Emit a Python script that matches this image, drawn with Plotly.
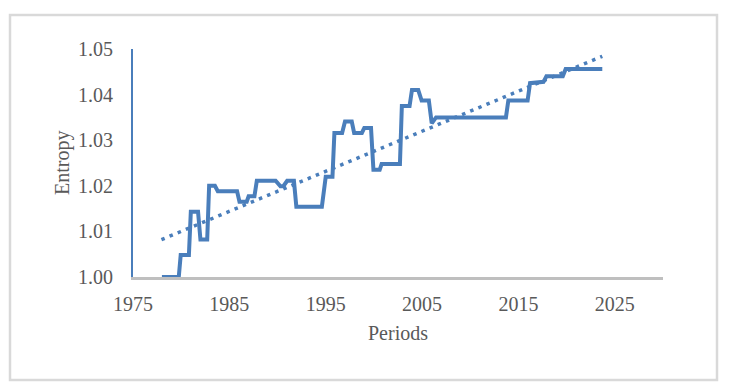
import plotly.graph_objects as go

# Entropy step series (vertices)
years = [1978.0, 1979.75, 1979.95, 1980.8, 1981.0, 1981.75, 1982.0, 1982.7, 1982.9, 1983.5,
         1983.8, 1985.8, 1986.05, 1986.8, 1987.0, 1987.6, 1987.85, 1989.8, 1990.3, 1990.6,
         1991.0, 1991.7, 1991.95, 1994.6, 1995.0, 1995.7, 1995.9, 1996.7, 1997.0, 1997.7,
         1997.95, 1998.75, 1999.0, 1999.7, 1999.95, 2000.6, 2000.8, 2002.7, 2002.9, 2003.7,
         2003.95, 2004.6, 2004.95, 2005.7, 2006.0, 2006.45, 2013.7, 2013.95, 2015.95, 2016.2,
         2017.6, 2017.9, 2019.6, 2019.9, 2023.7]
entropy = [1.0000, 1.0000, 1.0048, 1.0048, 1.0143, 1.0143, 1.0082, 1.0082, 1.0200, 1.0200,
           1.0188, 1.0188, 1.0165, 1.0165, 1.0177, 1.0177, 1.0211, 1.0211, 1.0199, 1.0199,
           1.0211, 1.0211, 1.0154, 1.0154, 1.0220, 1.0220, 1.0316, 1.0316, 1.0341, 1.0341,
           1.0316, 1.0316, 1.0327, 1.0327, 1.0235, 1.0235, 1.0248, 1.0248, 1.0375, 1.0375,
           1.0410, 1.0410, 1.0387, 1.0387, 1.0337, 1.0350, 1.0350, 1.0387, 1.0387, 1.0425,
           1.0428, 1.0440, 1.0440, 1.0456, 1.0456]

# Linear trend line end points
trend_years = [1977.95, 2023.7]
trend_values = [1.0082, 1.0484]

x_ticks = [1975, 1985, 1995, 2005, 2015, 2025]
y_ticks = [1.00, 1.01, 1.02, 1.03, 1.04, 1.05]

BLUE = "#4a7ebb"
TXT = "#595959"
FONT = "Liberation Serif"

# page has an 8px body margin, so the figure is laid out shifted by -8px
L, T, W, H = 125, 41, 530, 228

fig = go.Figure()
fig.add_trace(go.Scatter(x=years, y=entropy, mode="lines",
                         line=dict(color=BLUE, width=4), showlegend=False))
fig.add_trace(go.Scatter(x=trend_years, y=trend_values, mode="lines",
                         line=dict(color=BLUE, width=3.5, dash="3.5px,5.3px"),
                         showlegend=False))

fig.update_layout(
    width=734, height=385,
    margin=dict(l=L, r=734 - L - W, t=T, b=385 - T - H),
    paper_bgcolor="white", plot_bgcolor="white",
    font=dict(family=FONT, size=20, color=TXT),
    xaxis=dict(range=[1975, 2030], tickvals=x_ticks, showgrid=False, zeroline=False,
               showline=True, linecolor="#bfbfbf", linewidth=3, ticks="",
               ticklabelstandoff=7, layer="below traces"),
    yaxis=dict(range=[1.0, 1.05], tickvals=y_ticks, tickformat=".2f", showgrid=False,
               zeroline=False, showline=True, linecolor=BLUE, linewidth=2, ticks="",
               ticklabelstandoff=14, layer="below traces"),
    annotations=[
        dict(text="Entropy", xref="paper", yref="paper", x=0, y=0.5, xanchor="center",
             yanchor="middle", xshift=-71, textangle=-90, showarrow=False,
             font=dict(family=FONT, size=20, color=TXT)),
        dict(text="Periods", xref="paper", yref="paper", x=0.5, y=0, xanchor="center",
             yanchor="middle", yshift=-56, showarrow=False,
             font=dict(family=FONT, size=20, color=TXT)),
    ],
    shapes=[dict(type="rect", xref="paper", yref="paper",
                 x0=(2 - L) / W, x1=(709 - L) / W,
                 y0=(T + H - 372) / H, y1=(T + H - 7) / H,
                 line=dict(color="#d9d9d9", width=2.5), fillcolor="rgba(0,0,0,0)",
                 layer="below")],
)

fig.write_html("out.html")
